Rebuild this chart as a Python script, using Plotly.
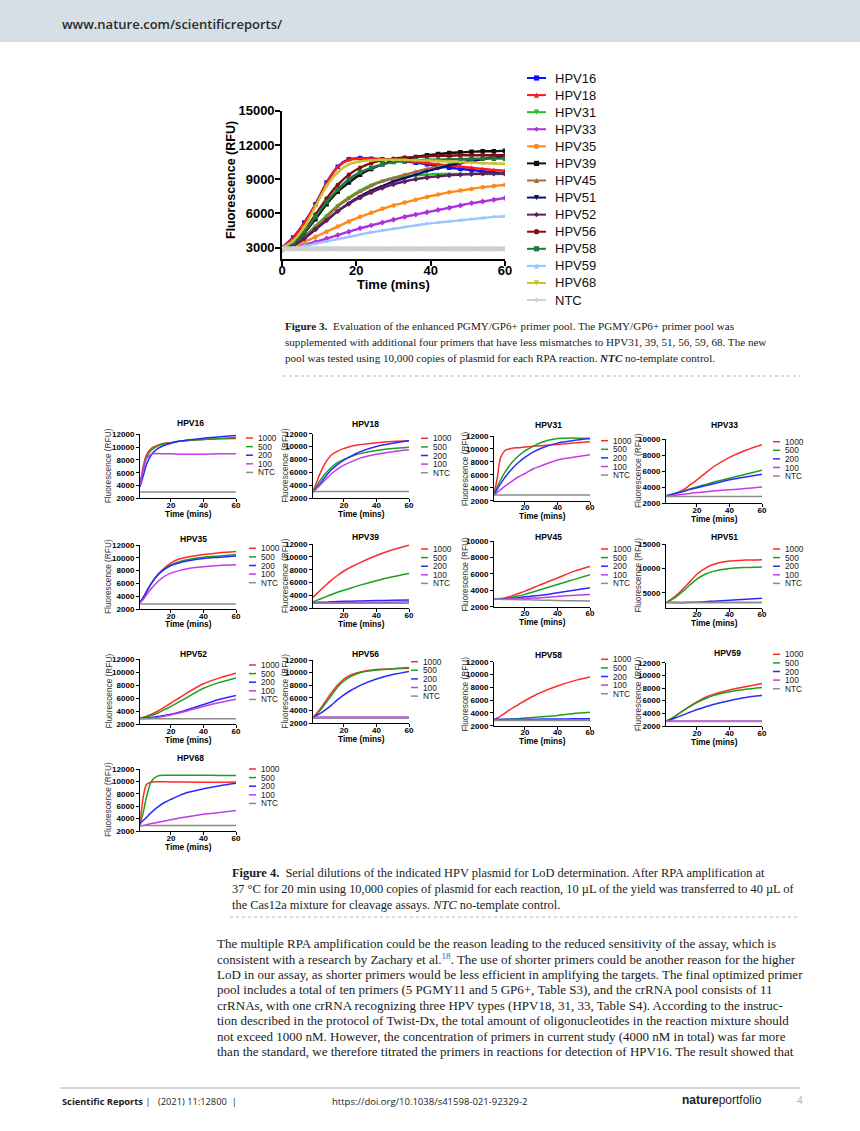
import plotly.graph_objects as go

W, H = 860, 1131
SANS = "Liberation Sans, Arial, sans-serif"
SERIF = "Liberation Serif, Times New Roman, serif"
OPEN = "Open Sans, Liberation Sans, sans-serif"


def X(p):
    return p / W


def Y(p):
    return 1 - p / H


# ---------------- Figure 3 data ----------------
t3 = [0, 3, 6, 9, 12, 15, 18, 21, 24, 27, 30, 33, 36, 39, 42, 45, 48, 51, 54, 57, 60]
fig3_names = ["HPV16", "HPV18", "HPV31", "HPV33", "HPV35", "HPV39", "HPV45",
              "HPV51", "HPV52", "HPV56", "HPV58", "HPV59", "HPV68", "NTC"]
fig3_colors = ["#1010ff", "#ff1a1a", "#22c422", "#b030e0", "#ff8a1a", "#111111", "#a0703a",
               "#10107a", "#5e1f5e", "#8b0a0a", "#1e7a45", "#9cc4ff", "#c8c430", "#cfcfcf"]
fig3_symbols = ["square", "triangle-up", "triangle-down", "diamond", "circle", "square", "triangle-up",
                "triangle-down", "diamond", "circle", "square", "triangle-up", "triangle-down", "diamond"]

hpv16 = [3000, 3900, 5200, 6800, 8700, 10100, 10750, 10850, 10800, 10750, 10650, 10550, 10450, 10300, 10150, 10000, 9900, 9800, 9700, 9600, 9550]
hpv18 = [3000, 3850, 5150, 6750, 8650, 10050, 10700, 10800, 10800, 10750, 10700, 10600, 10500, 10400, 10300, 10200, 10100, 10000, 9900, 9800, 9750]
hpv31 = [2950, 3300, 4000, 4900, 5800, 6700, 7400, 8000, 8500, 8850, 9100, 9250, 9350, 9400, 9450, 9450, 9450, 9450, 9450, 9450, 9450]
hpv33 = [2800, 3000, 3250, 3500, 3800, 4100, 4400, 4700, 4950, 5200, 5450, 5700, 5900, 6100, 6300, 6500, 6700, 6900, 7050, 7200, 7350]
hpv35 = [2800, 3100, 3500, 3950, 4400, 4850, 5300, 5700, 6050, 6400, 6700, 6950, 7200, 7450, 7650, 7850, 8000, 8150, 8300, 8400, 8500]
hpv39 = [3000, 3400, 4300, 5500, 6800, 7900, 8700, 9400, 9900, 10300, 10600, 10800, 10950, 11100, 11200, 11300, 11350, 11400, 11450, 11450, 11500]
hpv45 = [2950, 3250, 3900, 4800, 5700, 6600, 7300, 7900, 8400, 8800, 9100, 9400, 9650, 9900, 10100, 10300, 10500, 10650, 10800, 10950, 11050]
hpv51 = [2900, 3200, 3800, 4600, 5400, 6200, 6900, 7500, 8000, 8400, 8800, 9100, 9400, 9700, 9950, 10200, 10400, 10600, 10750, 10900, 11000]
hpv52 = [2900, 3200, 3800, 4600, 5400, 6200, 6850, 7400, 7850, 8250, 8550, 8800, 9000, 9150, 9250, 9350, 9400, 9450, 9500, 9500, 9500]
hpv56 = [3000, 3500, 4500, 5900, 7300, 8500, 9400, 10000, 10400, 10650, 10800, 10900, 10950, 11000, 11050, 11050, 11100, 11100, 11100, 11100, 11100]
hpv58 = [3000, 3450, 4400, 5700, 7000, 8100, 9000, 9600, 10000, 10300, 10500, 10600, 10650, 10700, 10700, 10750, 10750, 10800, 10800, 10800, 10800]
hpv59 = [2800, 2950, 3150, 3350, 3550, 3750, 3950, 4150, 4350, 4500, 4650, 4800, 4950, 5100, 5200, 5300, 5400, 5500, 5600, 5700, 5750]
hpv68 = [3000, 3600, 4800, 6600, 8400, 9600, 10300, 10550, 10650, 10700, 10700, 10700, 10650, 10650, 10600, 10550, 10500, 10450, 10400, 10380, 10350]
ntc3 = [2900, 2900, 2900, 2900, 2900, 2900, 2900, 2900, 2900, 2900, 2900, 2900, 2900, 2900, 2900, 2900, 2900, 2900, 2900, 2900, 2900]
fig3_values = [hpv16, hpv18, hpv31, hpv33, hpv35, hpv39, hpv45, hpv51, hpv52, hpv56, hpv58, hpv59, hpv68, ntc3]

# ---------------- Figure 4 data ----------------
t4 = [1, 3, 5, 8, 12, 16, 20, 25, 30, 40, 50, 60]
doses = ["1000", "500", "200", "100", "NTC"]
dose_colors = ["#ff2a2a", "#1f9e1f", "#2a2aff", "#c43ce8", "#8c8c8c"]

d_hpv16 = [
    [4000, 7000, 8800, 9800, 10300, 10600, 10700, 10900, 11050, 11200, 11300, 11350],
    [4000, 6500, 8400, 9500, 10200, 10500, 10700, 10900, 11050, 11200, 11350, 11500],
    [3800, 5500, 7300, 8800, 9800, 10300, 10600, 10900, 11100, 11400, 11600, 11800],
    [4000, 6500, 8200, 8900, 9000, 8950, 8950, 8900, 8900, 8900, 8950, 8950],
    [3000, 3000, 3000, 3000, 3000, 3000, 3000, 3000, 3000, 3000, 3000, 3000],
]
d_hpv18 = [
    [3000, 4300, 5600, 7200, 8600, 9300, 9700, 10100, 10300, 10600, 10800, 10900],
    [3000, 3800, 4600, 5600, 6700, 7500, 8000, 8500, 8900, 9400, 9700, 9900],
    [2900, 3500, 4100, 5100, 6300, 7200, 7900, 8600, 9200, 10000, 10500, 10900],
    [2900, 3400, 3900, 4700, 5700, 6500, 7100, 7700, 8200, 8800, 9200, 9500],
    [3000, 3000, 3000, 3000, 3000, 3000, 3000, 3000, 3000, 3000, 3000, 3000],
]
d_hpv31 = [
    [3000, 5500, 8600, 9800, 10100, 10200, 10300, 10400, 10500, 10700, 10900, 11100],
    [3000, 4200, 5200, 6500, 7900, 8900, 9700, 10400, 11000, 11600, 11700, 11600],
    [2900, 3800, 4600, 5700, 6900, 7900, 8700, 9500, 10100, 10900, 11300, 11600],
    [2900, 3300, 3700, 4300, 5000, 5700, 6200, 6900, 7400, 8300, 8700, 9100],
    [2900, 2900, 2900, 2900, 2900, 2900, 2900, 2900, 2900, 2900, 2900, 2900],
]
d_hpv33 = [
    [2900, 2950, 3050, 3300, 3700, 4300, 4900, 5700, 6500, 7700, 8600, 9300],
    [2900, 3000, 3100, 3300, 3500, 3800, 4000, 4300, 4600, 5100, 5600, 6100],
    [2900, 3000, 3100, 3250, 3450, 3700, 3900, 4150, 4400, 4900, 5250, 5600],
    [2900, 2900, 2950, 3000, 3100, 3200, 3300, 3400, 3500, 3650, 3800, 4000],
    [2800, 2800, 2800, 2800, 2800, 2800, 2800, 2800, 2800, 2800, 2800, 2800],
]
d_hpv35 = [
    [3000, 3800, 4700, 6000, 7400, 8400, 9200, 9800, 10100, 10500, 10800, 11000],
    [3000, 3800, 4700, 6000, 7400, 8300, 8900, 9400, 9700, 10100, 10300, 10500],
    [3000, 3800, 4700, 6000, 7300, 8200, 8800, 9200, 9500, 9900, 10100, 10300],
    [3000, 3500, 4200, 5200, 6300, 7100, 7600, 8000, 8300, 8600, 8800, 8900],
    [2800, 2800, 2800, 2800, 2800, 2800, 2800, 2800, 2800, 2800, 2800, 2800],
]
d_hpv39 = [
    [3700, 4200, 4700, 5400, 6300, 7100, 7800, 8500, 9100, 10200, 11100, 11800],
    [3000, 3200, 3400, 3700, 4100, 4500, 4800, 5200, 5600, 6300, 6900, 7400],
    [2900, 2900, 2950, 2950, 3000, 3050, 3100, 3100, 3150, 3200, 3250, 3300],
    [2800, 2800, 2800, 2800, 2850, 2850, 2900, 2900, 2900, 2950, 2950, 3000],
    [2800, 2800, 2800, 2800, 2800, 2800, 2800, 2800, 2800, 2800, 2800, 2800],
]
d_hpv45 = [
    [2900, 2950, 3000, 3100, 3300, 3600, 3900, 4300, 4700, 5500, 6300, 6900],
    [2900, 2900, 2950, 3000, 3150, 3300, 3500, 3800, 4100, 4700, 5300, 5900],
    [2900, 2900, 2900, 2950, 3000, 3100, 3200, 3300, 3400, 3700, 4000, 4300],
    [2900, 2900, 2900, 2900, 2950, 2950, 3000, 3050, 3100, 3250, 3400, 3500],
    [2900, 2900, 2900, 2880, 2870, 2860, 2850, 2820, 2800, 2750, 2720, 2700],
]
d_hpv51 = [
    [3000, 3400, 3900, 4700, 6000, 7400, 8800, 10000, 10800, 11500, 11700, 11800],
    [3000, 3300, 3700, 4400, 5500, 6700, 7800, 8800, 9400, 10000, 10200, 10300],
    [3000, 3000, 3000, 3000, 3000, 3050, 3100, 3200, 3300, 3500, 3700, 3900],
    [3000, 3000, 3000, 3000, 3000, 3000, 3000, 3000, 3000, 3000, 3000, 3000],
    [3000, 3000, 3000, 3000, 3000, 3000, 3000, 3000, 3000, 3000, 3000, 3000],
]
d_hpv52 = [
    [2900, 3000, 3200, 3500, 4000, 4600, 5200, 6000, 6800, 8200, 9100, 9800],
    [2900, 3000, 3100, 3300, 3700, 4200, 4700, 5400, 6100, 7500, 8400, 9100],
    [2900, 2900, 2950, 3000, 3150, 3300, 3500, 3800, 4200, 5000, 5800, 6400],
    [2800, 2820, 2850, 2900, 3000, 3200, 3400, 3700, 4000, 4700, 5300, 5800],
    [2800, 2800, 2800, 2800, 2800, 2800, 2800, 2800, 2800, 2800, 2800, 2800],
]
d_hpv56 = [
    [3000, 3500, 4100, 5200, 6700, 8000, 9000, 9700, 10100, 10500, 10600, 10700],
    [2900, 3300, 3900, 4900, 6300, 7700, 8700, 9500, 10000, 10400, 10600, 10800],
    [2900, 3200, 3500, 4000, 4800, 5700, 6500, 7300, 8000, 9000, 9700, 10200],
    [3000, 3000, 3000, 3000, 3000, 3000, 3000, 3000, 3000, 3000, 3000, 3000],
    [2800, 2800, 2800, 2800, 2800, 2800, 2800, 2800, 2800, 2800, 2800, 2800],
]
d_hpv58 = [
    [2900, 3200, 3500, 4000, 4700, 5300, 5900, 6600, 7200, 8200, 9000, 9600],
    [2900, 2920, 2950, 3000, 3050, 3100, 3200, 3300, 3400, 3600, 3900, 4100],
    [3000, 3000, 3000, 3000, 3000, 3000, 3000, 3020, 3030, 3050, 3080, 3100],
    [2900, 2900, 2900, 2900, 2900, 2900, 2900, 2900, 2900, 2900, 2900, 2900],
    [2800, 2800, 2800, 2800, 2800, 2800, 2800, 2800, 2800, 2800, 2800, 2800],
]
d_hpv59 = [
    [2800, 3000, 3300, 3800, 4500, 5200, 5800, 6500, 7000, 7700, 8200, 8700],
    [2800, 3000, 3300, 3800, 4500, 5100, 5700, 6300, 6800, 7400, 7800, 8100],
    [2800, 2900, 3100, 3400, 3800, 4200, 4600, 5000, 5400, 6000, 6500, 6800],
    [2800, 2800, 2800, 2800, 2800, 2800, 2800, 2800, 2800, 2800, 2800, 2800],
    [2700, 2700, 2700, 2700, 2700, 2700, 2700, 2700, 2700, 2700, 2700, 2700],
]
d_hpv68 = [
    [3000, 7500, 9500, 9900, 9950, 9950, 9900, 9900, 9900, 9850, 9850, 9900],
    [3000, 5000, 7500, 10000, 10900, 11000, 11000, 11000, 11000, 11000, 10950, 10950],
    [3200, 3700, 4200, 5000, 5900, 6600, 7100, 7700, 8200, 8800, 9300, 9700],
    [2800, 2900, 3000, 3200, 3400, 3600, 3800, 4100, 4300, 4700, 5000, 5300],
    [2900, 2900, 2900, 2900, 2900, 2900, 2900, 2900, 2900, 2900, 2900, 2900],
]

yt12 = [2000, 4000, 6000, 8000, 10000, 12000]
yt10 = [2000, 4000, 6000, 8000, 10000]
yt15 = [5000, 10000, 15000]

# panel geometry (pixels): plot left/right, top/bottom, title pos, legend text x / first row y, y-title x
panels = [
    ("HPV16", d_hpv16, dict(x0=140, x1=236, top=434.3, bot=498.3, yr=[2000, 12000], yt=yt12, tx=190, ty=423, lx=256, ly=438, yx=108)),
    ("HPV18", d_hpv18, dict(x0=313, x1=409, top=433.7, bot=498, yr=[2000, 12000], yt=yt12, tx=365, ty=424, lx=431, ly=438.3, yx=285)),
    ("HPV31", d_hpv31, dict(x0=494, x1=590, top=436, bot=500.7, yr=[2000, 12000], yt=yt12, tx=548, ty=425, lx=611, ly=440.7, yx=465)),
    ("HPV33", d_hpv33, dict(x0=666, x1=762, top=439, bot=503, yr=[2000, 10000], yt=yt10, tx=724, ty=425, lx=783, ly=441.7, yx=638)),
    ("HPV35", d_hpv35, dict(x0=140, x1=236, top=545, bot=609, yr=[2000, 12000], yt=yt12, tx=193, ty=539, lx=259, ly=548.3, yx=108)),
    ("HPV39", d_hpv39, dict(x0=313, x1=409, top=544, bot=608.3, yr=[2000, 12000], yt=yt12, tx=365, ty=537.3, lx=431, ly=549, yx=285)),
    ("HPV45", d_hpv45, dict(x0=494, x1=590, top=541, bot=606.7, yr=[2000, 10000], yt=yt10, tx=548, ty=537.3, lx=611, ly=549, yx=465)),
    ("HPV51", d_hpv51, dict(x0=666, x1=762, top=544, bot=607.5, yr=[2000, 15000], yt=yt15, tx=724, ty=537, lx=783, ly=549, yx=638)),
    ("HPV52", d_hpv52, dict(x0=140, x1=236, top=659, bot=724, yr=[2000, 12000], yt=yt12, tx=193, ty=654.3, lx=259, ly=665, yx=108)),
    ("HPV56", d_hpv56, dict(x0=313, x1=409, top=660, bot=723.3, yr=[2000, 12000], yt=yt12, tx=365, ty=654, lx=421, ly=661.7, yx=285)),
    ("HPV58", d_hpv58, dict(x0=494, x1=590, top=661.7, bot=725.7, yr=[2000, 12000], yt=yt12, tx=548, ty=655, lx=611, ly=659.3, yx=465)),
    ("HPV59", d_hpv59, dict(x0=666, x1=762, top=662.7, bot=726, yr=[2000, 12000], yt=yt12, tx=727, ty=653.3, lx=783, ly=654.3, yx=638)),
    ("HPV68", d_hpv68, dict(x0=140, x1=236, top=769, bot=831, yr=[2000, 12000], yt=yt12, tx=190, ty=758, lx=259, ly=769, yx=108)),
]

fig = go.Figure()
shapes = []
annotations = []
layout_axes = {}


def ann(text, x, y, size, family=SANS, color="#111", xanchor="left", yanchor="middle", weight="normal", angle=0):
    annotations.append(dict(text=text, x=X(x), y=Y(y), xref="paper", yref="paper", showarrow=False,
                            xanchor=xanchor, yanchor=yanchor, textangle=angle,
                            font=dict(family=family, size=size, color=color, weight=weight)))


def axis_pair(k, x0, x1, top, bot, xr, yr, xt, yt, fsize, lw, tlen, xstand, ystand):
    xn = "xaxis" if k == 1 else f"xaxis{k}"
    yn = "yaxis" if k == 1 else f"yaxis{k}"
    common = dict(showline=True, linecolor="#000", linewidth=lw, ticks="outside", ticklen=tlen,
                  tickwidth=lw, tickcolor="#000", showgrid=False, zeroline=False, fixedrange=True,
                  tickfont=dict(family=SANS, size=fsize, color="#000", weight="bold"))
    layout_axes[xn] = dict(domain=[X(x0), X(x1)], range=xr, tickvals=xt, anchor=f"y{'' if k == 1 else k}",
                           ticklabelstandoff=xstand, **common)
    layout_axes[yn] = dict(domain=[Y(bot), Y(top)], range=yr, tickvals=yt, anchor=f"x{'' if k == 1 else k}",
                           tickformat="d", ticklabelstandoff=ystand, **common)


def marker_shape(cx, cy, sym, s, color):
    if sym == "square":
        return dict(type="rect", xref="paper", yref="paper", x0=X(cx - s), x1=X(cx + s), y0=Y(cy + s), y1=Y(cy - s),
                    fillcolor=color, line=dict(width=0))
    if sym == "circle":
        return dict(type="circle", xref="paper", yref="paper", x0=X(cx - s), x1=X(cx + s), y0=Y(cy + s), y1=Y(cy - s),
                    fillcolor=color, line=dict(width=0))
    if sym == "triangle-up":
        pts = [(cx - s, cy + s), (cx + s, cy + s), (cx, cy - s)]
    elif sym == "triangle-down":
        pts = [(cx - s, cy - s), (cx + s, cy - s), (cx, cy + s)]
    else:
        pts = [(cx - s, cy), (cx, cy - s), (cx + s, cy), (cx, cy + s)]
    path = "M " + " L ".join(f"{X(a):.5f},{Y(b):.5f}" for a, b in pts) + " Z"
    return dict(type="path", xref="paper", yref="paper", path=path, fillcolor=color, line=dict(width=0))


# ---------------- Figure 3 ----------------
axis_pair(1, 282, 505, 110.7, 259.1, [0, 60], [2000, 15000], [0, 20, 40, 60],
          [3000, 6000, 9000, 12000, 15000], 13, 1.6, 5, -7, -2)
for name, col, sym, vals in zip(fig3_names, fig3_colors, fig3_symbols, fig3_values):
    w = 5 if name == "NTC" else 2.4
    fig.add_trace(go.Scatter(x=t3, y=vals, mode="lines+markers", name=name, showlegend=False,
                             line=dict(color=col, width=w, shape="spline", smoothing=0.8),
                             marker=dict(symbol=sym, size=4.5, color=col),
                             xaxis="x", yaxis="y"))
ann("Fluorescence (RFU)", 231, 180, 12.5, angle=-90, xanchor="center", weight="bold", color="#000")
ann("Time (mins)", 393, 284, 13, xanchor="center", weight="bold", color="#000")
for i, (name, col, sym) in enumerate(zip(fig3_names, fig3_colors, fig3_symbols)):
    yy = 78 + 17.08 * i
    shapes.append(dict(type="line", xref="paper", yref="paper", x0=X(527), x1=X(546), y0=Y(yy), y1=Y(yy),
                       line=dict(color=col, width=2)))
    shapes.append(marker_shape(536.5, yy, sym, 2.6, col))
    ann(name, 553, yy, 13, color="#111")

# Figure 3 caption
CAP3 = 11.1
ann("<b>Figure 3.</b>  Evaluation of the enhanced PGMY/GP6+ primer pool. The PGMY/GP6+ primer pool was",
    283, 326, CAP3, family=SERIF, color="#1a1a1a")
ann("supplemented with additional four primers that have less mismatches to HPV31, 39, 51, 56, 59, 68. The new",
    283, 342, CAP3, family=SERIF, color="#1a1a1a")
ann("pool was tested using 10,000 copies of plasmid for each RPA reaction. <b><i>NTC</i></b> no-template control.",
    283, 358, CAP3, family=SERIF, color="#1a1a1a")
shapes.append(dict(type="line", xref="paper", yref="paper", x0=X(283), x1=X(800), y0=Y(376), y1=Y(376),
                   line=dict(color="#b5b5b5", width=1, dash="dot")))

# ---------------- Figure 4 ----------------
for pi, (pname, curves, g) in enumerate(panels):
    k = pi + 2
    axis_pair(k, g["x0"], g["x1"], g["top"], g["bot"], [1, 60], g["yr"], [20, 40, 60], g["yt"], 8, 1.1, 3, -4, 0)
    for dose, col, vals in zip(doses, dose_colors, curves):
        fig.add_trace(go.Scatter(x=t4, y=vals, mode="lines", name=f"{pname} {dose}", showlegend=False,
                                 line=dict(color=col, width=1.5, shape="spline", smoothing=0.8),
                                 xaxis=f"x{k}", yaxis=f"y{k}"))
    ann(pname, g["tx"], g["ty"], 8.5, xanchor="center", weight="bold", color="#000")
    ann("Fluorescence (RFU)", g["yx"], (g["top"] + g["bot"]) / 2, 8.3, angle=-90, xanchor="center", color="#333")
    ann("Time (mins)", (g["x0"] + g["x1"]) / 2, g["bot"] + 15.5, 8.3, xanchor="center", weight="bold", color="#000")
    for j, (dose, col) in enumerate(zip(doses, dose_colors)):
        yy = g["ly"] + 8.6 * j
        shapes.append(dict(type="line", xref="paper", yref="paper", x0=X(g["lx"] - 10), x1=X(g["lx"] - 3),
                           y0=Y(yy), y1=Y(yy), line=dict(color=col, width=1.5)))
        ann(dose, g["lx"], yy, 8.3, color="#222")

# Figure 4 caption
CAP4 = 12.4
ann("<b>Figure 4.</b>  Serial dilutions of the indicated HPV plasmid for LoD determination. After RPA amplification at",
    230, 873, CAP4, family=SERIF, color="#1a1a1a")
ann("37 °C for 20 min using 10,000 copies of plasmid for each reaction, 10 µL of the yield was transferred to 40 µL of",
    230, 889, CAP4, family=SERIF, color="#1a1a1a")
ann("the Cas12a mixture for cleavage assays. <i>NTC</i> no-template control.",
    230, 905, CAP4, family=SERIF, color="#1a1a1a")
shapes.append(dict(type="line", xref="paper", yref="paper", x0=X(230), x1=X(800), y0=Y(917), y1=Y(917),
                   line=dict(color="#b5b5b5", width=1, dash="dot")))

# Body text
body = [
    "The multiple RPA amplification could be the reason leading to the reduced sensitivity of the assay, which is",
    "consistent with a research by Zachary et al.<sup><span style='color:#2a5db0'>18</span></sup>. The use of shorter primers could be another reason for the higher",
    "LoD in our assay, as shorter primers would be less efficient in amplifying the targets. The final optimized primer",
    "pool includes a total of ten primers (5 PGMY11 and 5 GP6+, Table S3), and the crRNA pool consists of 11",
    "crRNAs, with one crRNA recognizing three HPV types (HPV18, 31, 33, Table S4). According to the instruc-",
    "tion described in the protocol of Twist-Dx, the total amount of oligonucleotides in the reaction mixture should",
    "not exceed 1000 nM. However, the concentration of primers in current study (4000 nM in total) was far more",
    "than the standard, we therefore titrated the primers in reactions for detection of HPV16. The result showed that",
]
for i, line in enumerate(body):
    ann(line, 215, 943 + 15.55 * i, 13.0, family=SERIF, color="#1a1a1a")

# Header band
shapes.insert(0, dict(type="rect", xref="paper", yref="paper", x0=0, x1=1, y0=Y(42), y1=1,
                      fillcolor="#d6dfe6", line=dict(width=0), layer="below"))
ann("www.nature.com/scientificreports/", 60, 24, 13, family=OPEN, color="#2b2b2b", weight=600)

# Footer
shapes.append(dict(type="line", xref="paper", yref="paper", x0=X(60), x1=X(800), y0=Y(1088), y1=Y(1088),
                   line=dict(color="#9a9a9a", width=0.8)))
ann("<b>Scientific Reports</b> |", 60, 1101, 9.3, family=OPEN, color="#222")
ann("(2021) 11:12800  |", 156, 1101, 9.3, family=OPEN, color="#222")
ann("https://doi.org/10.1038/s41598-021-92329-2", 330, 1101, 9.5, family=OPEN, color="#222")
ann("<b>nature</b>portfolio", 680, 1100, 12, family=SANS, color="#222")
ann("4", 795, 1100, 10, family=OPEN, color="#b0b0b0")

fig.update_layout(width=W, height=H, margin=dict(l=0, r=0, t=0, b=0), template="none",
                  paper_bgcolor="white", plot_bgcolor="rgba(0,0,0,0)", showlegend=False,
                  shapes=shapes, annotations=annotations, **layout_axes)

fig.write_html("out.html", config={"displayModeBar": False},
               post_script="document.body.style.margin='0';document.body.style.overflow='hidden';")
